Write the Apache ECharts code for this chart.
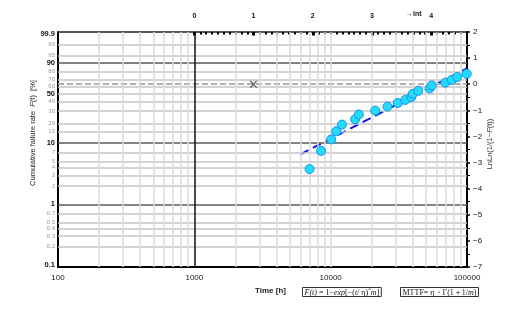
<!DOCTYPE html>
<html><head><meta charset="utf-8">
<script src="https://cdn.jsdelivr.net/npm/echarts@6/dist/echarts.min.js"></script>
<style>html,body{margin:0;padding:0;background:#fff}#c{width:515px;height:315px}</style>
</head><body><div id="c"></div>
<script>
// ---- data ----
const timeTicks = [100, 1000, 10000, 100000];
const gridTimes = [200,300,400,500,600,700,800,900,2000,3000,4000,5000,6000,7000,8000,9000,10000,20000,30000,40000,50000,60000,70000,80000,90000];
const fLabels = [99.9,99,95,90,80,70,60,50,40,30,20,15,10,7,5,4,3,2,1,0.7,0.5,0.4,0.3,0.2,0.1];
const fBold = [99.9,90,50,10,1,0.1];
const fDarkLines = [90,10,1];
const lnlnTicks = [-7,-6,-5,-4,-3,-2,-1,0,1,2];
const lntTicks = [0,1,2,3,4];
const failTimes = [7000,8500,10100,11000,12100,15100,16100,21200,26100,31100,35300,39000,40000,43900,53300,55200,69300,77400,84800,99500];
const failPct   = [3.8,7.5,11.4,15.2,19.2,22.9,27.0,30.5,34.6,38.5,42.2,45.7,49.9,54.0,57.4,61.5,65.4,69.3,73.3,77.4];
const fitTimes = [6000, 100000];
const fitPct = [6.6, 84.1];
const refPoint = [2718.28, 63.21];

// ---- helpers ----
const toY = p => Math.log(-Math.log(1 - p / 100));
const nearestF = v => { let best = fLabels[0], d = 1e9; fLabels.forEach(p => { const dd = Math.abs(toY(p) - v); if (dd < d) { d = dd; best = p; } }); return best; };
const lntMinor = []; for (let i = 0; i <= 46; i++) lntMinor.push(i / 10);

const hLines = fLabels.filter(p => p !== 99.9 && p !== 0.1).map(p => ({
  yAxis: toY(p),
  lineStyle: fDarkLines.includes(p) ? {color: '#5a5a5a', width: 1.5, type: 'solid'} : {color: '#c4c4c4', width: 1.5, type: 'solid'}
}));
hLines.push({yAxis: 0, lineStyle: {color: '#b0b0b0', width: 2, type: [6, 3]}});
const vLines = gridTimes.map(t => ({xAxis: t, lineStyle: {color: '#dadada', width: 1.5, type: 'solid'}}));
vLines.push({xAxis: 1000, lineStyle: {color: '#111', width: 1.5, type: 'solid'}});

const ff = "'Liberation Sans', Arial, sans-serif";
const chart = echarts.init(document.getElementById('c'), null, {renderer: 'canvas'});
chart.setOption({
  animation: false,
  backgroundColor: '#fff',
  grid: {left: 58, right: 48, top: 32, bottom: 48, containLabel: false},
  xAxis: [
    {type: 'log', logBase: 10, min: 100, max: 100000, position: 'bottom',
     axisLine: {show: true, onZero: false, lineStyle: {color: '#000', width: 2}},
     axisTick: {show: false}, splitLine: {show: false}, minorTick: {show: false},
     axisLabel: {margin: 7, color: '#222', fontSize: 8, fontFamily: ff, formatter: v => String(Math.round(v))}},
    {type: 'value', min: Math.log(0.1), max: Math.log(100), position: 'top',
     axisLine: {show: true, onZero: false, lineStyle: {color: '#222', width: 1.5}},
     axisTick: {show: true, inside: true, length: 2.5, customValues: lntMinor, lineStyle: {color: '#000', width: 2}},
     axisLabel: {show: true, customValues: lntTicks, margin: 12, color: '#111', fontSize: 7, fontWeight: 'bold', fontFamily: ff},
     splitLine: {show: false}},
    {type: 'value', min: Math.log(0.1), max: Math.log(100), position: 'top',
     axisLine: {show: false, onZero: false},
     axisTick: {show: true, inside: true, length: 3.5, customValues: lntTicks, lineStyle: {color: '#000', width: 3}},
     axisLabel: {show: false}, splitLine: {show: false}}
  ],
  yAxis: [
    {type: 'value', min: -7, max: 2, position: 'left',
     axisLine: {show: true, onZero: false, lineStyle: {color: '#000', width: 2}},
     axisTick: {show: false}, splitLine: {show: false},
     axisLabel: {customValues: fLabels.map(toY), margin: 3,
       formatter: v => { const p = nearestF(v); return fBold.includes(p) ? '{b|' + p + '}' : '{n|' + p + '}'; },
       rich: {b: {fontSize: 7.5, fontWeight: 'bold', color: '#111', fontFamily: ff},
              n: {fontSize: 6, color: '#999', fontFamily: ff}}}},
    {type: 'value', min: -7, max: 2, interval: 1, position: 'right',
     axisLine: {show: true, onZero: false, lineStyle: {color: '#000', width: 2}},
     axisTick: {show: true, inside: false, length: 3, lineStyle: {color: '#000', width: 1.5}},
     minorTick: {show: true, splitNumber: 2, length: 3, lineStyle: {color: '#000', width: 1}},
     splitLine: {show: false},
     axisLabel: {margin: 6, color: '#111', fontSize: 8, fontFamily: ff, formatter: v => v < 0 ? '\u2212' + (-v) : String(v)}}
  ],
  series: [
    {type: 'line', name: 'grid', xAxisIndex: 0, yAxisIndex: 0, data: [], silent: true, z: 1,
     markLine: {silent: true, symbol: ['none', 'none'], label: {show: false}, animation: false,
       emphasis: {disabled: true}, data: hLines.concat(vLines)}},
    {type: 'line', name: 'fit', xAxisIndex: 0, yAxisIndex: 0, z: 3, symbol: 'none', silent: true,
     data: fitTimes.map((t, i) => [t, toY(fitPct[i])]),
     lineStyle: {color: '#1414e6', width: 2, type: [9, 5]}},
    {type: 'scatter', name: 'fail', xAxisIndex: 0, yAxisIndex: 0, z: 5, symbol: 'circle', symbolSize: 9,
     data: failTimes.map((t, i) => [t, toY(failPct[i])]),
     itemStyle: {color: '#22dcff', borderColor: '#1c8fe8', borderWidth: 1, opacity: 1}},
    {type: 'scatter', name: 'ref', xAxisIndex: 0, yAxisIndex: 0, z: 6,
     symbol: 'path://M0,0 L2,0 L5,3.2 L8,0 L10,0 L6,4.2 L10,8 L8,8 L5,5.2 L2,8 L0,8 L4,4.2 Z',
     symbolSize: [8, 7], data: [[refPoint[0], toY(refPoint[1])]],
     itemStyle: {color: '#333'}}
  ],
  graphic: [
    {type: 'text', x: 33, y: 133, rotation: Math.PI / 2,
     style: {text: 'Cumulative failure rate  {i|F}(t)  [%]', align: 'center', verticalAlign: 'middle',
       font: "7.5px 'Liberation Sans', Arial", fill: '#222',
       rich: {i: {fontStyle: 'italic', fontFamily: "'Liberation Sans', Arial", fontSize: 7.5, fill: '#222'}}}},
    {type: 'text', x: 490, y: 144, rotation: Math.PI / 2,
     style: {text: 'LnLn(1/(1\u2212{i|F}(t))', align: 'center', verticalAlign: 'middle',
       font: "7.5px 'Liberation Sans', Arial", fill: '#333',
       rich: {i: {fontStyle: 'italic', fontFamily: "'Liberation Sans', Arial", fontSize: 7.5, fill: '#333'}}}},
    {type: 'text', left: 406, top: 11, style: {text: '\u2192lnt', font: "bold 7px 'Liberation Sans', Arial", fill: '#111'}},
    {type: 'text', left: 255, top: 287, style: {text: 'Time [h]', font: "bold 8px 'Liberation Sans', Arial", fill: '#222'}},
    {type: 'text', left: 302, top: 287, style: {
      text: '{i|F(t)} = 1\u2212{i|exp}[\u2212({i|t}/ \u03b7)\u02c6{i|m}]',
      rich: {i: {fontStyle: 'italic', fontFamily: "'Liberation Serif', serif", fontSize: 8, fill: '#111'}},
      font: "8px 'Liberation Serif', serif", fill: '#111',
      borderColor: '#333', borderWidth: 1, padding: [1, 2, 0, 2]}},
    {type: 'text', left: 400, top: 287, style: {
      text: 'MTTF= \u03b7\u30fb\u0393(1\uff0b1/{i|m})',
      rich: {i: {fontStyle: 'italic', fontFamily: "'Liberation Serif', serif", fontSize: 8, fill: '#111'}},
      font: "8px 'Liberation Serif', serif", fill: '#111',
      borderColor: '#333', borderWidth: 1, padding: [1, 2, 0, 2]}}
  ]
});
</script></body></html>
